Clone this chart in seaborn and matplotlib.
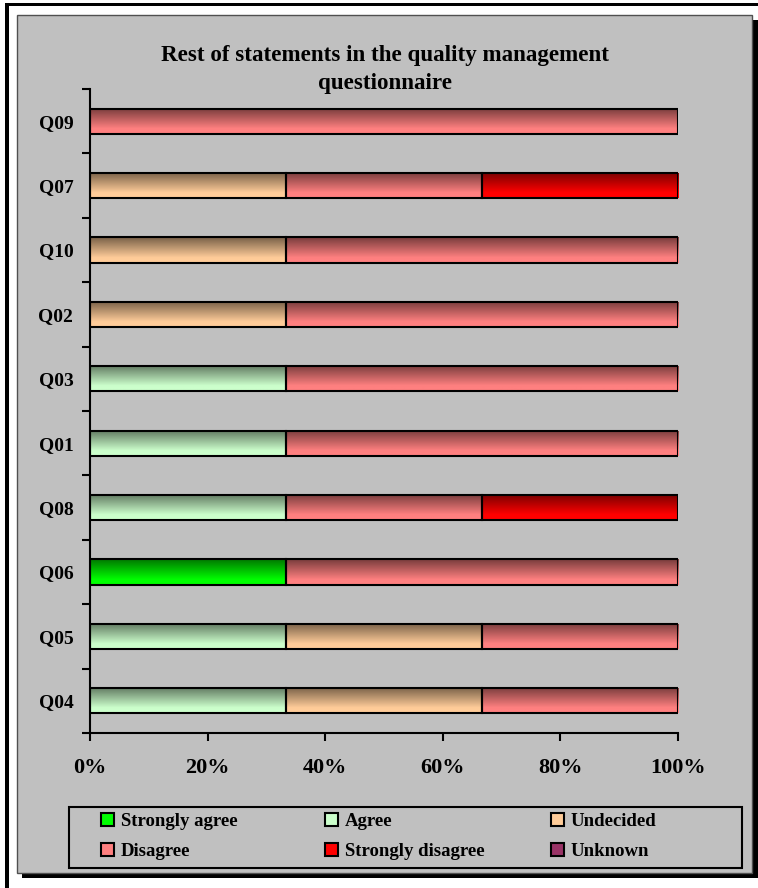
import numpy as np
import pandas as pd
import seaborn as sns
import matplotlib.pyplot as plt
from matplotlib.patches import Rectangle, Patch
from matplotlib.colors import to_rgb

# Dados (percentual por questão)
questions = ["Q09", "Q07", "Q10", "Q02", "Q03", "Q01", "Q08", "Q06", "Q05", "Q04"]
strongly_agree = [0, 0, 0, 0, 0, 0, 0, 33.3, 0, 0]
agree = [0, 0, 0, 0, 33.3, 33.3, 33.3, 0, 33.3, 33.3]
undecided = [0, 33.3, 33.3, 33.3, 0, 0, 0, 0, 33.3, 33.3]
disagree = [100, 33.3, 66.7, 66.7, 66.7, 66.7, 33.4, 66.7, 33.4, 33.4]
strongly_disagree = [0, 33.4, 0, 0, 0, 0, 33.3, 0, 0, 0]
unknown = [0, 0, 0, 0, 0, 0, 0, 0, 0, 0]

labels = ["Strongly agree", "Agree", "Undecided", "Disagree", "Strongly disagree", "Unknown"]
series = [strongly_agree, agree, undecided, disagree, strongly_disagree, unknown]
colors = ["#00FF00", "#CCFFCC", "#FFCC99", "#FF8080", "#FF0000", "#993366"]
tick_vals = [0, 20, 40, 60, 80, 100]
tick_labels = ["0%", "20%", "40%", "60%", "80%", "100%"]

W, H = 758, 888
sns.set_style("white")
plt.rcParams["font.family"] = ["Liberation Serif", "DejaVu Serif"]
plt.rcParams["font.weight"] = "bold"
for k in ["text.color", "axes.labelcolor", "xtick.color", "ytick.color", "axes.edgecolor"]:
    plt.rcParams[k] = "black"

fig = plt.figure(figsize=(W / 100, H / 100), dpi=100, facecolor="white")


def fx(x):
    return x / W


def fy(y):
    return 1 - y / H


def px_rect(x0, y0, x1, y1, **kw):
    r = Rectangle((fx(x0), fy(y1)), fx(x1) - fx(x0), fy(y0) - fy(y1),
                  transform=fig.transFigure, **kw)
    fig.add_artist(r)
    return r


# moldura externa, sombra e painel cinza
px_rect(5, 3, 758, 6.5, facecolor="black", edgecolor="none", zorder=-3)
px_rect(5, 3, 8.5, 888, facecolor="black", edgecolor="none", zorder=-3)
px_rect(22, 20, 758, 878, facecolor="black", edgecolor="none", zorder=-3)
px_rect(17, 15, 752, 873, facecolor="#C0C0C0", edgecolor="#505050", linewidth=1, zorder=-2)
px_rect(69, 807, 742, 868, facecolor="none", edgecolor="black", linewidth=1.5, zorder=3)

ax = fig.add_axes([fx(90), fy(733), fx(678) - fx(90), fy(89) - fy(733)])
ax.set_facecolor("none")
ax.set_zorder(1)


def gradient_fill(patch, base):
    # degradê vertical: escuro em cima, cor cheia embaixo
    x0, y0 = patch.get_x(), patch.get_y()
    w, h = patch.get_width(), patch.get_height()
    t = np.linspace(0, 1, 64)
    f = 0.47 + 0.53 * np.clip(t / 0.8, 0, 1)
    img = np.array(to_rgb(base))[None, :] * f[:, None]
    img = img[:, None, :]
    im = ax.imshow(img, extent=(x0, x0 + w, y0 + h, y0), origin="upper",
                   aspect="auto", interpolation="bilinear", zorder=1.5)
    im.set_clip_path(patch)
    patch.set_facecolor("none")
    patch.set_zorder(2)


left = np.zeros(len(questions))
q_arr = np.array(questions)
for name, vals, col in zip(labels, series, colors):
    vals = np.array(vals, dtype=float)
    mask = vals > 0
    if mask.any():
        df = pd.DataFrame({"q": q_arr[mask], "v": vals[mask]})
        n0 = len(ax.patches)
        sns.barplot(data=df, y="q", x="v", order=questions, orient="h",
                    color=col, saturation=1, width=0.39, errorbar=None,
                    left=left[mask], edgecolor="black", linewidth=1.5, ax=ax)
        for p in ax.patches[n0:]:
            gradient_fill(p, col)
    left += vals

ax.set_xlim(0, 100)
ax.set_ylim(len(questions) - 0.5, -0.5)
ax.set_xticks(tick_vals)
ax.set_xticklabels(tick_labels, fontsize=16, fontweight="bold")
ax.set_yticks(range(len(questions)))
ax.set_yticklabels(questions, fontsize=14, fontweight="bold")
ax.set_yticks(np.arange(-0.5, len(questions), 1), minor=True)
ax.set_xlabel("")
ax.set_ylabel("")
ax.tick_params(axis="y", which="major", left=True, length=0, pad=12)
ax.tick_params(axis="y", which="minor", left=True, length=6, width=1.5, direction="out", color="black")
ax.tick_params(axis="x", which="major", bottom=True, length=6, width=1.5, direction="out",
               color="black", pad=12)
for s in ["top", "right"]:
    ax.spines[s].set_visible(False)
for s in ["left", "bottom"]:
    ax.spines[s].set_color("black")
    ax.spines[s].set_linewidth(1.5)

fig.text(fx(385), fy(45), "Rest of statements in the quality management\nquestionnaire",
         ha="center", va="top", fontsize=16.6, fontweight="bold", linespacing=1.42)

# legenda em três colunas
handles = [Patch(facecolor=c, edgecolor="black", linewidth=1.5) for c in colors]
col_x = [101, 325, 551]
for i, x in enumerate(col_x):
    idx = [i, i + 3]
    fig.legend([handles[j] for j in idx], [labels[j] for j in idx],
               loc="upper left", bbox_to_anchor=(fx(x), fy(813)),
               frameon=False, borderpad=0, borderaxespad=0,
               handlelength=0.7, handleheight=0.7, handletextpad=0.35,
               labelspacing=0.7, prop={"family": "Liberation Serif", "weight": "bold", "size": 13.5})

fig.savefig("out.png", dpi=100)
